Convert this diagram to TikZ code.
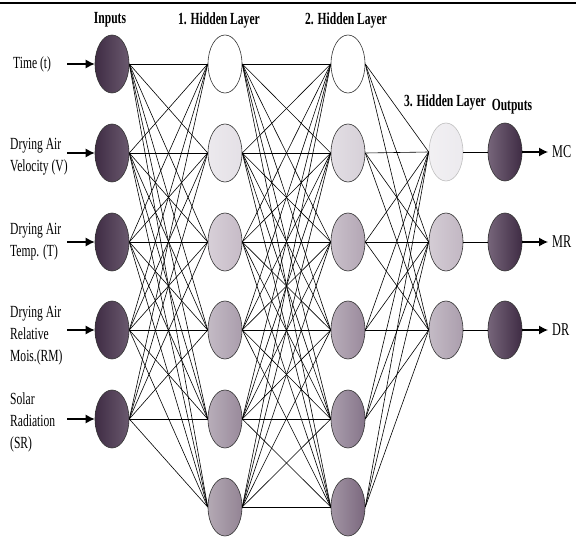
\documentclass[tikz,border=0pt]{standalone}
\usepackage{fontspec}
\setmainfont{Liberation Serif}[FakeStretch=0.68]
\usetikzlibrary{arrows.meta,shapes.geometric}
\definecolor{inA}{HTML}{3F2C44}
\definecolor{inB}{HTML}{6A596E}
\definecolor{outA}{HTML}{76657A}
\definecolor{outB}{HTML}{3F2C44}
\definecolor{ha2}{HTML}{E4E0E6}
\definecolor{ha3}{HTML}{C6BBC7}
\definecolor{ha4}{HTML}{AA9DAC}
\definecolor{ha5}{HTML}{998A9B}
\definecolor{ha6}{HTML}{938494}
\definecolor{hb2}{HTML}{D6D0D8}
\definecolor{hb3}{HTML}{B3A6B4}
\definecolor{hb4}{HTML}{9A8A9C}
\definecolor{hb5}{HTML}{86758A}
\definecolor{hb6}{HTML}{7B687E}
\definecolor{hc1}{HTML}{ECEAEE}
\definecolor{hc2}{HTML}{C2B7C3}
\definecolor{hc3}{HTML}{AB9EAD}
\begin{document}
\begin{tikzpicture}[x=1pt,y=-1pt,
  neuron/.style={ellipse, draw=black!80, line width=0.6pt, minimum width=34pt, minimum height=58pt, inner sep=0pt},
  grad/.style={left color=#1!70!white, right color=#1},
  inp/.style={left color=inA, right color=inB},
  outp/.style={left color=outA, right color=outB},
  conn/.style={line width=0.6pt},
  io/.style={line width=1.2pt, -{Latex[length=9pt,width=9pt]}},
  title/.style={font=\fontsize{17}{20}\selectfont\bfseries, inner sep=0pt},
  lab/.style={font=\fontsize{17}{22}\selectfont, align=left, anchor=west, inner sep=0pt},
  olab/.style={font=\fontsize{18}{22}\selectfont, anchor=west, inner sep=0pt}]
\useasboundingbox (0,0) rectangle (576,540);
\draw[line width=1.5pt] (0,3) -- (576,3);
% inputs
\node[neuron, inp] (i1) at (112,64) {};
\node[neuron, inp] (i2) at (112,153) {};
\node[neuron, inp] (i3) at (112,242) {};
\node[neuron, inp] (i4) at (112,330) {};
\node[neuron, inp] (i5) at (112,419) {};
% hidden 1
\node[neuron, fill=white] (a1) at (225,64) {};
\node[neuron, grad=ha2] (a2) at (225,153) {};
\node[neuron, grad=ha3] (a3) at (225,242) {};
\node[neuron, grad=ha4] (a4) at (225,330) {};
\node[neuron, grad=ha5] (a5) at (225,419) {};
\node[neuron, grad=ha6] (a6) at (225,507) {};
% hidden 2
\node[neuron, fill=white] (b1) at (348,64) {};
\node[neuron, grad=hb2] (b2) at (348,153) {};
\node[neuron, grad=hb3] (b3) at (348,242) {};
\node[neuron, grad=hb4] (b4) at (348,330) {};
\node[neuron, grad=hb5] (b5) at (348,419) {};
\node[neuron, grad=hb6] (b6) at (348,507) {};
% hidden 3
\node[neuron, grad=hc1, draw=black!25] (c1) at (446,152) {};
\node[neuron, grad=hc2] (c2) at (446,242) {};
\node[neuron, grad=hc3] (c3) at (446,330) {};
% outputs
\node[neuron, outp] (o1) at (505,152) {};
\node[neuron, outp] (o2) at (505,242) {};
\node[neuron, outp] (o3) at (505,330) {};
% connections
\foreach \a in {1,...,5} \foreach \b in {1,...,6} \draw[conn] (i\a.east) -- (a\b.west);
\foreach \a in {1,...,6} \foreach \b in {1,...,6} \draw[conn] (a\a.east) -- (b\b.west);
\foreach \a in {1,...,6} \foreach \b in {1,...,3} \draw[conn] (b\a.east) -- (c\b.west);
\foreach \a in {1,2,3} \draw[conn] (c\a.east) -- (o\a.west);
% titles
\node[title] (t0) at (110,20) {Inputs};
\node[title] (t1) at (219,20) {1. Hidden Layer};
\node[title] (t2) at (346,20) {2. Hidden Layer};
\node[title] (t3) at (445,102) {3. Hidden Layer};
\node[title] (t4) at (512,107) {Outputs};
% input labels and arrows
\node[lab] (l1) at (13,64) {Time (t)};
\node[lab] (l2) at (10,157) {Drying Air\\Velocity (V)};
\node[lab] (l3) at (10,242) {Drying Air\\Temp. (T)};
\node[lab] (l4) at (10,336) {Drying Air\\Relative\\Mois.(RM)};
\node[lab] (l5) at (10,422) {Solar\\Radiation\\(SR)};
\coordinate (s1) at (67,64);
\coordinate (s2) at (67,153);
\coordinate (s3) at (67,242);
\coordinate (s4) at (67,330);
\coordinate (s5) at (67,419);
\foreach \a in {1,...,5} \draw[io] (s\a) -- (i\a.west);
% outputs arrows and labels
\coordinate (e1) at (548,152);
\coordinate (e2) at (548,242);
\coordinate (e3) at (548,330);
\foreach \a in {1,2,3} \draw[io] (o\a.east) -- (e\a);
\node[olab] (m1) at (552,152) {MC};
\node[olab] (m2) at (552,242) {MR};
\node[olab] (m3) at (552,330) {DR};
\end{tikzpicture}
\end{document}
